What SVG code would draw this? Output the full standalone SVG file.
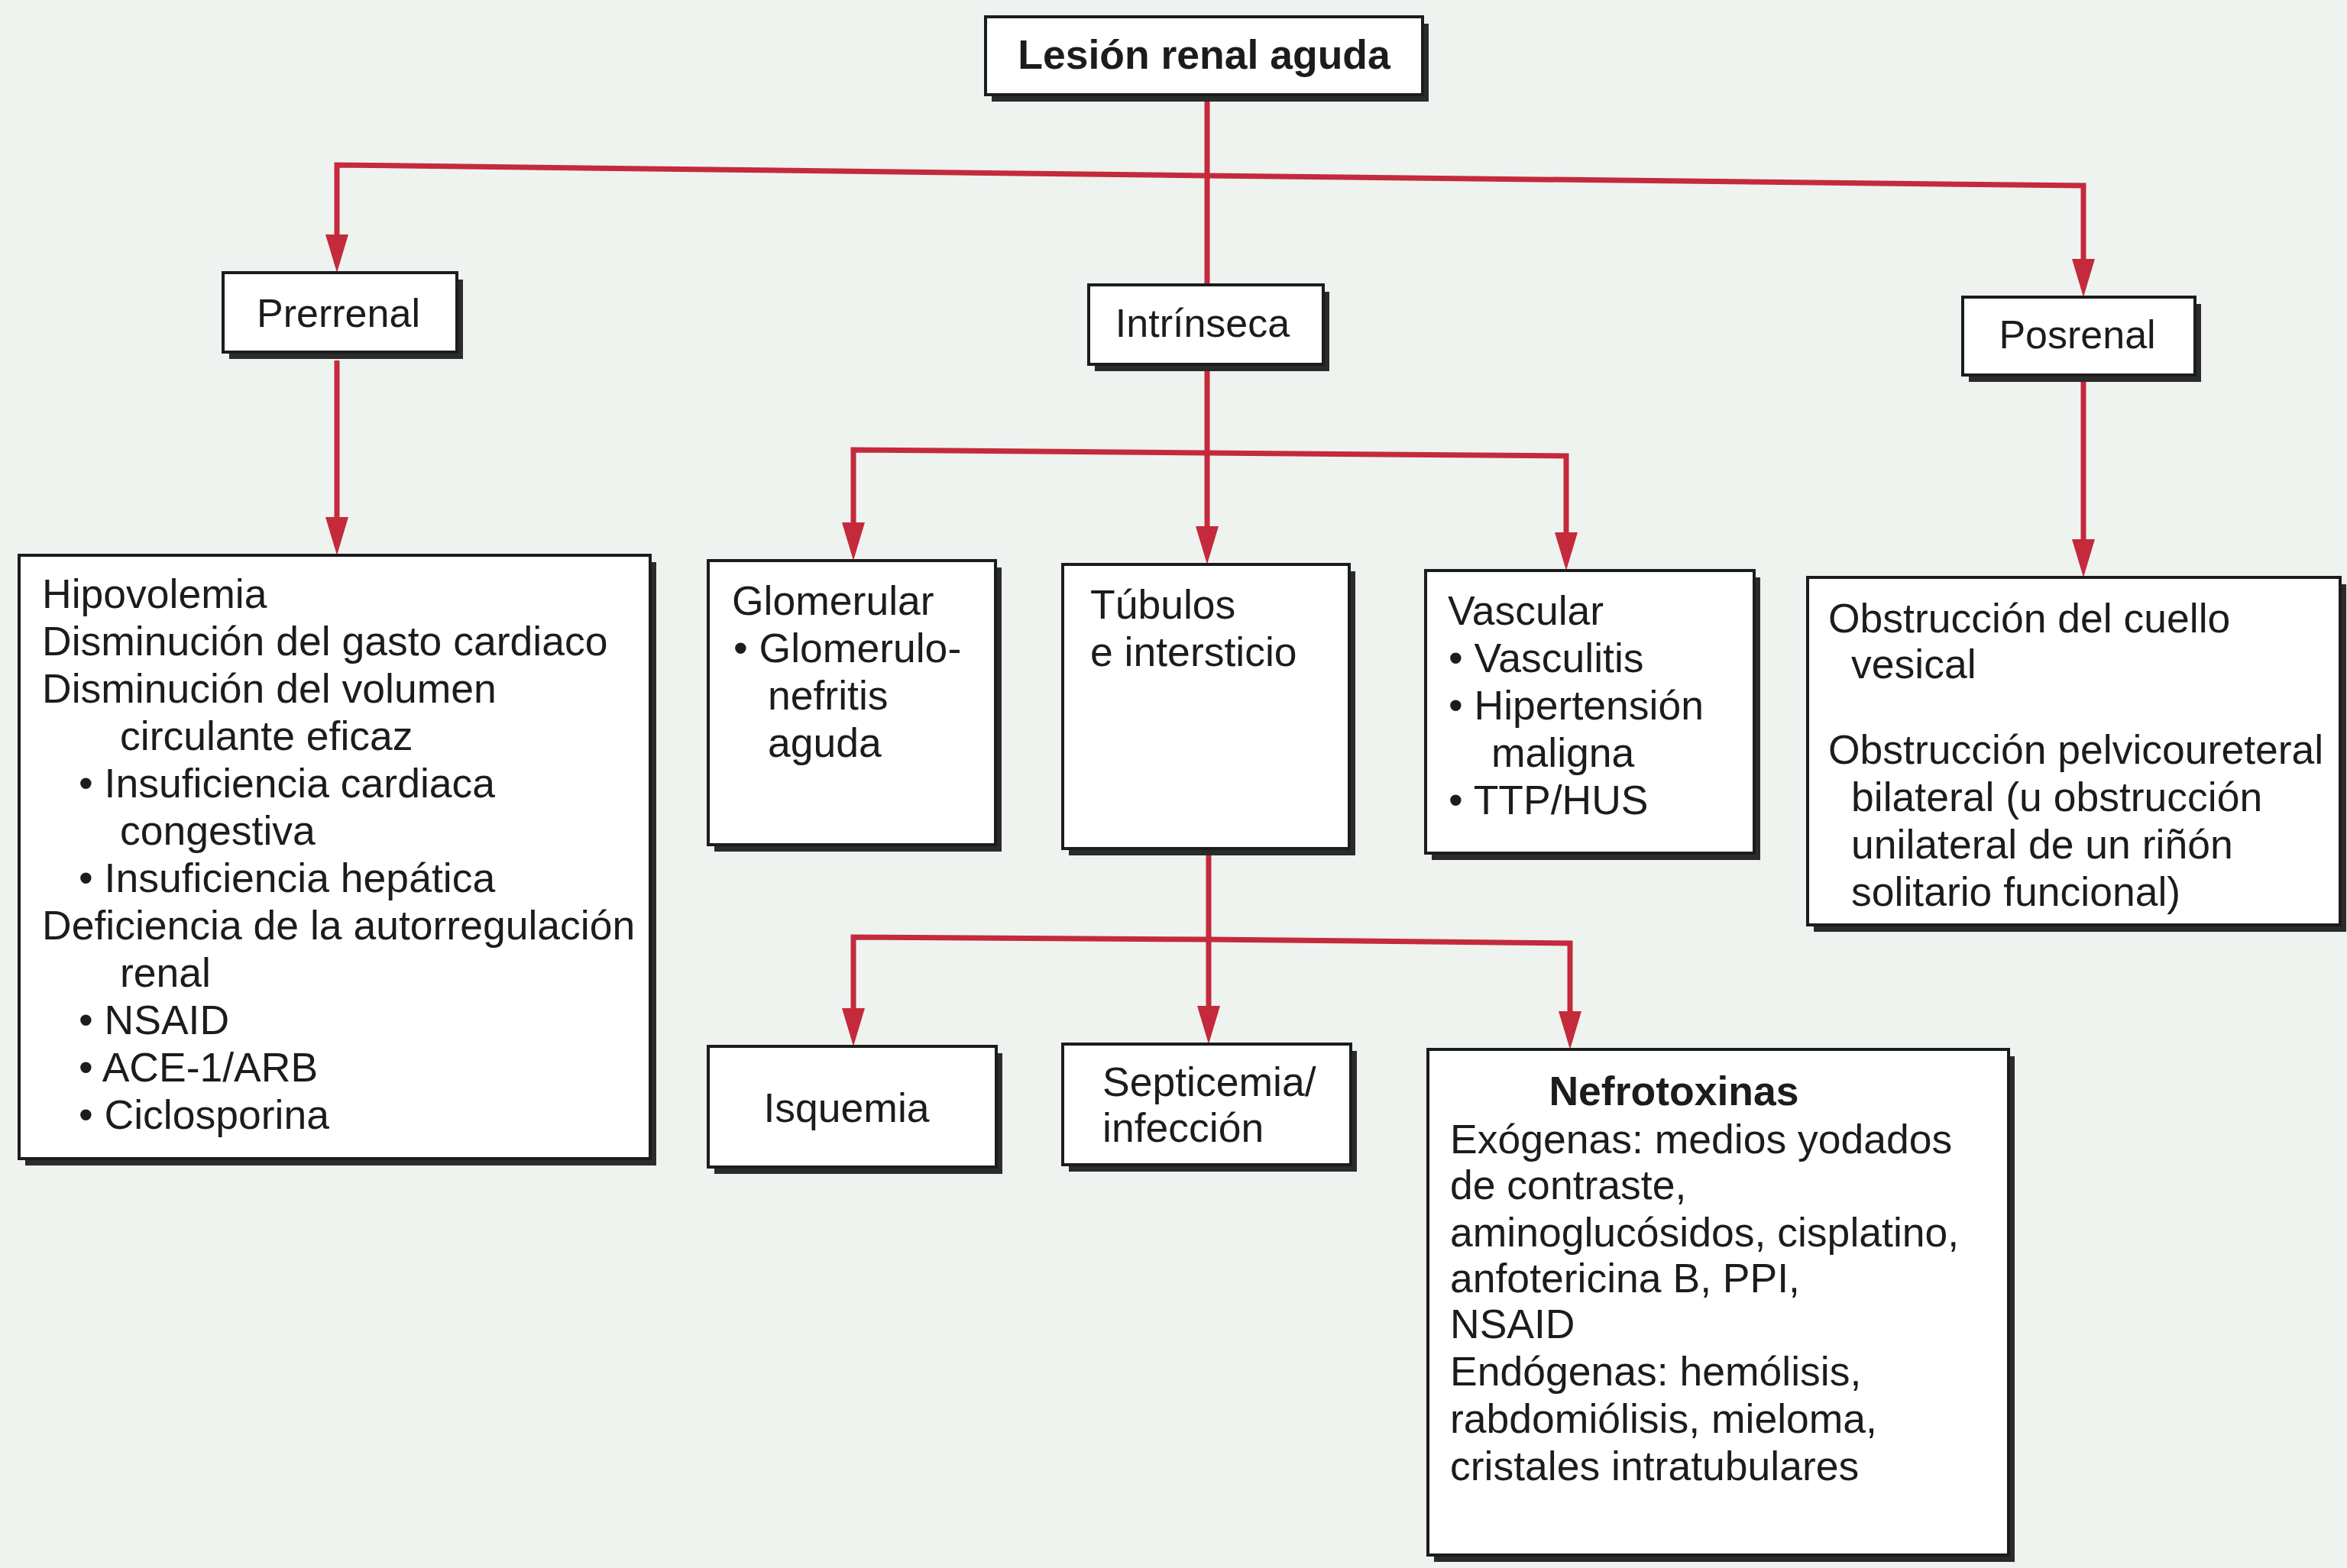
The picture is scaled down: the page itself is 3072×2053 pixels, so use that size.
<svg xmlns="http://www.w3.org/2000/svg" width="3072" height="2053" viewBox="0 0 3072 2053">
<defs>
<marker id="ah" markerUnits="userSpaceOnUse" markerWidth="50" markerHeight="30" refX="38" refY="15" orient="auto">
<path d="M0,0 L50,15 L0,30 z" fill="#c42a3c"/>
</marker>
<style>
.bg{fill:#eef3ef}
.sh{fill:#2b2b2b}
.bx{fill:#ffffff;stroke:#1c1c1c;stroke-width:4}
.t{font-family:"Liberation Sans",Arial,sans-serif;font-size:53.5px;fill:#1c1c1c}
.l{font-size:52px}
.b{font-weight:bold}
.m{text-anchor:middle}
.c{fill:none;stroke:#c42a3c;stroke-width:7;stroke-linejoin:miter}
</style>
</defs>
<rect class="bg" x="0" y="0" width="3072" height="2053"/>

<g id="connectors">
<path class="c" d="M1580,132 V727" marker-end="url(#ah)"/>
<path class="c" d="M1580,230 L441,216 V345" marker-end="url(#ah)"/>
<path class="c" d="M1580,230 L2727,243 V377" marker-end="url(#ah)"/>
<path class="c" d="M441,472 V715" marker-end="url(#ah)"/>
<path class="c" d="M2727,500 V744" marker-end="url(#ah)"/>
<path class="c" d="M1580,593 L1117,589 V722" marker-end="url(#ah)"/>
<path class="c" d="M1580,593 L2050,597 V735" marker-end="url(#ah)"/>
<path class="c" d="M1582,1120 V1355" marker-end="url(#ah)"/>
<path class="c" d="M1582,1230 L1117,1227 V1358" marker-end="url(#ah)"/>
<path class="c" d="M1582,1230 L2055,1235 V1362" marker-end="url(#ah)"/>
</g>

<g id="lesion">
<rect class="sh" x="1298" y="31" width="572" height="102"/>
<rect class="bx" x="1290" y="22" width="572" height="102"/>
<text class="t b m" x="1576" y="90" font-size="50">Lesión renal aguda</text>
</g>

<g id="prerrenal">
<rect class="sh" x="300" y="366" width="306" height="104"/>
<rect class="bx" x="292" y="357" width="306" height="104"/>
<text class="t l m" x="443" y="428">Prerrenal</text>
</g>

<g id="intrinseca">
<rect class="sh" x="1433" y="382" width="307" height="104"/>
<rect class="bx" x="1425" y="373" width="307" height="104"/>
<text class="t l m" x="1574" y="441">Intrínseca</text>
</g>

<g id="posrenal">
<rect class="sh" x="2577" y="398" width="304" height="102"/>
<rect class="bx" x="2569" y="389" width="304" height="102"/>
<text class="t l m" x="2719" y="456">Posrenal</text>
</g>

<g id="prerrenal-causas">
<rect class="sh" x="33" y="736" width="826" height="790"/>
<rect class="bx" x="25" y="727" width="826" height="790"/>
<text class="t" x="55" y="796">Hipovolemia</text>
<text class="t" x="55" y="858">Disminución del gasto cardiaco</text>
<text class="t" x="55" y="920">Disminución del volumen</text>
<text class="t" x="157" y="982">circulante eficaz</text>
<text class="t" x="103" y="1044">• Insuficiencia cardiaca</text>
<text class="t" x="157" y="1106">congestiva</text>
<text class="t" x="103" y="1168">• Insuficiencia hepática</text>
<text class="t" x="55" y="1230">Deficiencia de la autorregulación</text>
<text class="t" x="157" y="1292">renal</text>
<text class="t" x="103" y="1354">• NSAID</text>
<text class="t" x="103" y="1416">• ACE-1/ARB</text>
<text class="t" x="103" y="1478">• Ciclosporina</text>
</g>

<g id="glomerular">
<rect class="sh" x="935" y="743" width="376" height="372"/>
<rect class="bx" x="927" y="734" width="376" height="372"/>
<text class="t" x="958" y="805">Glomerular</text>
<text class="t" x="960" y="867">• Glomerulo-</text>
<text class="t" x="1005" y="929">nefritis</text>
<text class="t" x="1005" y="991">aguda</text>
</g>

<g id="tubulos">
<rect class="sh" x="1399" y="748" width="375" height="372"/>
<rect class="bx" x="1391" y="739" width="375" height="372"/>
<text class="t" x="1427" y="810">Túbulos</text>
<text class="t" x="1427" y="872">e intersticio</text>
</g>

<g id="vascular">
<rect class="sh" x="1874" y="756" width="430" height="370"/>
<rect class="bx" x="1866" y="747" width="430" height="370"/>
<text class="t" x="1895" y="818">Vascular</text>
<text class="t" x="1896" y="880">• Vasculitis</text>
<text class="t" x="1896" y="942">• Hipertensión</text>
<text class="t" x="1952" y="1004">maligna</text>
<text class="t" x="1896" y="1066">• TTP/HUS</text>
</g>

<g id="obstruccion">
<rect class="sh" x="2374" y="765" width="697" height="455"/>
<rect class="bx" x="2366" y="756" width="697" height="455"/>
<text class="t" x="2393" y="828">Obstrucción del cuello</text>
<text class="t" x="2423" y="888">vesical</text>
<text class="t" x="2393" y="1000">Obstrucción pelvicoureteral</text>
<text class="t" x="2423" y="1062">bilateral (u obstrucción</text>
<text class="t" x="2423" y="1124">unilateral de un riñón</text>
<text class="t" x="2423" y="1186">solitario funcional)</text>
</g>

<g id="isquemia">
<rect class="sh" x="935" y="1379" width="377" height="158"/>
<rect class="bx" x="927" y="1370" width="377" height="158"/>
<text class="t m" x="1108" y="1469">Isquemia</text>
</g>

<g id="septicemia">
<rect class="sh" x="1399" y="1376" width="377" height="158"/>
<rect class="bx" x="1391" y="1367" width="377" height="158"/>
<text class="t" x="1443" y="1435">Septicemia/</text>
<text class="t" x="1443" y="1495">infección</text>
</g>

<g id="nefrotoxinas">
<rect class="sh" x="1877" y="1383" width="760" height="662"/>
<rect class="bx" x="1869" y="1374" width="760" height="662"/>
<text class="t b m" x="2191" y="1447" font-size="52">Nefrotoxinas</text>
<text class="t" x="1898" y="1510">Exógenas: medios yodados</text>
<text class="t" x="1898" y="1570">de contraste,</text>
<text class="t" x="1898" y="1632">aminoglucósidos, cisplatino,</text>
<text class="t" x="1898" y="1692">anfotericina B, PPI,</text>
<text class="t" x="1898" y="1752">NSAID</text>
<text class="t" x="1898" y="1814">Endógenas: hemólisis,</text>
<text class="t" x="1898" y="1876">rabdomiólisis, mieloma,</text>
<text class="t" x="1898" y="1938">cristales intratubulares</text>
</g>
</svg>
